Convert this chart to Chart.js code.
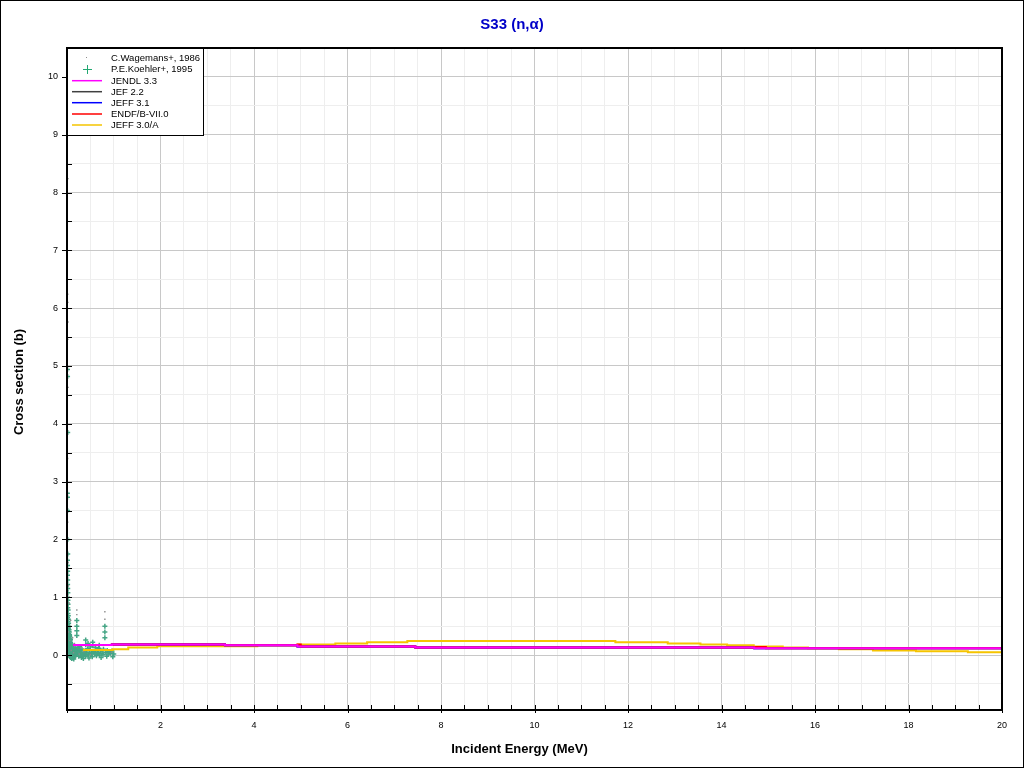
<!DOCTYPE html>
<html>
<head>
<meta charset="utf-8">
<script src="https://cdn.jsdelivr.net/npm/chart.js@4.4.1/dist/chart.umd.min.js"></script>
<style>
html,body{margin:0;padding:0;background:#fff;}
#c{display:block;}
</style>
</head>
<body>
<canvas id="c" width="1024" height="768" style="width:1024px;height:768px"></canvas>
<script>
// ---- data ----
const titleText = 'S33 (n,\u03b1)';
const xTickLabels = [2,4,6,8,10,12,14,16,18,20];
const yTickLabels = [0,1,2,3,4,5,6,7,8,9,10];

const jendlE = [0.13, 0.96, 3.38, 4.93, 7.45, 14.7, 20];
const jendlS = [0.173, 0.185, 0.168, 0.15, 0.133, 0.116, 0.116];
const jef22E = [0.13, 0.96, 3.38, 4.93, 7.45, 14.7, 20];
const jef22S = [0.173, 0.185, 0.168, 0.15, 0.133, 0.116, 0.116];
const jeff31E = [0.13, 0.96, 3.38, 4.93, 7.45, 14.7, 20];
const jeff31S = [0.173, 0.185, 0.168, 0.15, 0.133, 0.116, 0.116];
const endfE = [0.13, 0.96, 3.38, 4.93, 5.0, 7.45, 14.7, 14.95, 20];
const endfS = [0.173, 0.185, 0.168, 0.185, 0.15, 0.133, 0.14, 0.116, 0.116];
const jeff30E = [0.34, 0.98, 1.31, 1.93, 4.07, 4.93, 5.74, 6.42, 7.28, 11.73, 12.85, 13.55, 14.12, 14.69, 15.31, 15.85, 16.51, 17.24, 18.16, 19.27, 20];
const jeff30S = [0.087, 0.099, 0.133, 0.152, 0.168, 0.185, 0.202, 0.22, 0.242, 0.22, 0.202, 0.185, 0.168, 0.15, 0.133, 0.116, 0.099, 0.081, 0.064, 0.047, 0.047];

const koehlerE = [0.010,0.012,0.015,0.008,0.010,0.012,0.014,0.016,
  0.010,0.012,0.014,0.011,0.015,0.013,0.016,0.018,0.012,0.020,0.022,0.017,0.025,0.019,0.028,0.030,0.024,0.035,0.040,0.032,0.045,0.050,0.038,0.055,0.060,0.042,0.065,0.070,0.048,0.075,0.080,0.052,0.085,0.090,0.058,0.095,0.100,0.062,0.068,0.072,0.078,0.082,0.088,0.092,0.098,
  0.020,0.030,0.040,0.050,0.060,0.070,0.080,0.090,0.100,0.015,0.025,0.035,0.045,0.055,0.065,0.075,0.085,0.095,0.008,0.018,0.028,0.038,0.048,0.058,0.068,
  0.012,0.018,0.022,0.027,0.033,0.037,0.043,0.047,0.053,0.057,0.063,0.067,0.073,0.077,0.083,0.087,0.093,0.097,0.105,0.115,0.125,0.135,0.145,0.155,0.165,0.175,0.185,0.195,
  0.11,0.12,0.13,0.14,0.15,0.16,0.17,0.18,0.19,0.20,0.21,0.21,0.21,0.21,0.22,0.23,0.24,0.25,0.26,0.27,0.28,0.29,0.30,0.32,0.34,0.36,0.38,0.40,0.40,0.42,0.44,0.46,0.48,0.50,0.52,0.55,0.55,0.57,0.60,0.62,0.65,0.68,0.70,0.72,0.75,0.78,0.81,0.81,0.81,0.83,0.86,0.88,0.90,0.93,0.96,1.00,
  0.31,0.33,0.35,0.37,0.39,0.43,0.47,0.51,0.54,0.58,0.63,0.67,0.73,0.77,0.85,0.92,0.98,0.45,0.61,0.69];
const koehlerS = [4.94,4.82,3.85,2.80,2.73,2.50,2.00,1.75,
  1.64,1.55,1.45,1.38,1.30,1.22,1.15,1.08,1.00,0.95,0.88,0.82,0.78,0.72,0.68,0.62,0.58,0.55,0.50,0.47,0.44,0.40,0.37,0.35,0.32,0.30,0.28,0.26,0.24,0.22,0.20,0.19,0.17,0.15,0.14,0.12,0.10,0.09,0.08,0.06,0.05,0.04,0.03,0.02,0.01,
  0.10,0.05,0.15,0.02,-0.02,0.12,-0.04,0.07,-0.06,0.20,0.30,0.12,0.25,0.08,0.18,0.03,0.10,0.06,0.40,0.52,0.45,0.33,0.28,0.05,-0.03,
  0.65,0.48,0.36,0.22,0.41,0.16,0.29,0.09,0.34,0.13,0.21,0.04,0.27,0.11,0.06,0.19,0.08,0.00,0.03,-0.05,0.08,0.01,-0.07,0.04,0.10,-0.02,0.05,0.07,
  0.14,0.05,0.09,0.02,0.11,-0.03,0.07,0.04,0.13,0.01,0.60,0.50,0.42,0.34,0.08,0.03,0.12,-0.02,0.06,0.15,0.02,0.09,0.04,0.10,-0.01,0.07,0.03,0.26,0.18,0.05,0.11,0.01,0.08,0.14,0.03,0.22,0.16,0.06,0.02,0.09,0.04,0.12,0.00,0.07,0.03,0.10,0.50,0.40,0.30,0.05,0.08,0.02,0.06,0.03,0.07,0.02,
  -0.04,0.01,-0.06,0.03,-0.02,0.00,-0.05,0.02,-0.03,0.05,-0.01,0.04,-0.04,0.01,-0.02,0.04,-0.03,0.20,0.13,0.17];

const wagemansE = [0.020,0.015,0.018,0.020,0.017,0.022,0.013,0.016,0.024,0.030,0.050,0.080,0.120,0.160,0.21,0.21,0.30,0.45,0.60,0.81,0.81,0.95,0.03,0.06,0.09,0.14,0.26,0.36,0.50,0.70];
const wagemansS = [8.24,6.24,6.10,5.76,5.46,4.63,3.40,2.30,1.60,1.20,0.90,0.60,0.30,0.20,0.78,0.70,0.12,0.16,0.10,0.75,0.62,0.05,0.40,0.25,0.08,0.04,0.02,0.06,0.01,0.09];

// ---- helpers ----
function pts(E, S){ return E.map((e,i)=>({x:e, y:S[i]})); }
const LINE_COL = {jendl:'#ff00ff', jef22:'#404040', jeff31:'#0000ff', endf:'#ff0000', jeff30:'#f5c400'};
const KOEHLER_COL = '#45a585';
const KOEHLER_LEG = '#22a872';
const WAG_COL = '#8c8c8c';

function lineDs(label, E, S, color, order){
  return {label, data: pts(E,S), type:'scatter', showLine:true, stepped:true,
    borderColor:color, backgroundColor:color, borderWidth:2, pointRadius:0, order};
}

const datasets = [
  {label:'C.Wagemans+, 1986', data: pts(wagemansE, wagemansS), pointStyle:'rect', pointRadius:1,
    borderWidth:0, backgroundColor:WAG_COL, borderColor:WAG_COL, order:6},
  {label:'P.E.Koehler+, 1995', data: pts(koehlerE, koehlerS), pointStyle:'cross', pointRadius:2.5,
    borderWidth:1.5, backgroundColor:KOEHLER_COL, borderColor:KOEHLER_COL, order:7},
  lineDs('JENDL 3.3', jendlE, jendlS, LINE_COL.jendl, 0),
  lineDs('JEF 2.2', jef22E, jef22S, LINE_COL.jef22, 3),
  lineDs('JEFF 3.1', jeff31E, jeff31S, LINE_COL.jeff31, 2),
  lineDs('ENDF/B-VII.0', endfE, endfS, LINE_COL.endf, 1),
  lineDs('JEFF 3.0/A', jeff30E, jeff30S, LINE_COL.jeff30, 4)
];

const decor = {
  id:'decor',
  afterDraw(chart){
    const ctx = chart.ctx, a = chart.chartArea;
    const xs = chart.scales.x, ys = chart.scales.y;
    ctx.save();
    // plot frame
    ctx.strokeStyle = '#000'; ctx.lineWidth = 2;
    ctx.strokeRect(a.left, a.top, a.right - a.left, a.bottom - a.top);
    // ticks
    ctx.lineWidth = 1;
    ctx.beginPath();
    xs.ticks.forEach(t=>{
      const px = Math.round(xs.getPixelForValue(t.value)) + 0.5;
      const major = Math.abs(t.value % 2) < 1e-9;
      ctx.moveTo(px, a.bottom - 5);
      ctx.lineTo(px, a.bottom + (major ? 3 : 0));
    });
    ys.ticks.forEach(t=>{
      const py = Math.round(ys.getPixelForValue(t.value)) + 0.5;
      const major = Math.abs(t.value % 1) < 1e-9;
      ctx.moveTo(a.left - (major ? 5 : 0), py);
      ctx.lineTo(a.left + 5, py);
    });
    ctx.stroke();

    // legend
    const lx = 67, ly = 48, lw = 136, lh = 87;
    ctx.fillStyle = '#fff';
    ctx.fillRect(lx, ly, lw, lh);
    ctx.strokeStyle = '#000'; ctx.lineWidth = 1;
    ctx.strokeRect(lx + 0.5, ly + 0.5, lw, lh);
    const rows = [58.3, 69.3, 80.7, 91.7, 102.7, 114, 125];
    ctx.font = '9.5px "Liberation Sans", Arial, sans-serif';
    ctx.textBaseline = 'middle'; ctx.textAlign = 'left';
    datasets.forEach((d, i)=>{
      const y = rows[i];
      if (i === 0) {
        ctx.fillStyle = WAG_COL; ctx.fillRect(86, Math.round(y)-1, 1, 1);
      } else if (i === 1) {
        ctx.fillStyle = KOEHLER_LEG;
        const cy = Math.round(y);
        ctx.fillRect(83, cy, 9, 1);
        ctx.fillRect(87, cy - 4, 1, 9);
      } else {
        ctx.strokeStyle = d.borderColor; ctx.lineWidth = 1.5;
        ctx.beginPath();
        ctx.moveTo(72, y); ctx.lineTo(102, y);
        ctx.stroke();
      }
      ctx.fillStyle = '#000';
      ctx.fillText(d.label, 111, y + 0.5);
    });

    // titles
    ctx.fillStyle = '#0000c8';
    ctx.font = 'bold 15px "Liberation Sans", Arial, sans-serif';
    ctx.textAlign = 'center'; ctx.textBaseline = 'middle';
    ctx.fillText(titleText, 512, 25);
    ctx.fillStyle = '#000';
    ctx.font = 'bold 13px "Liberation Sans", Arial, sans-serif';
    ctx.fillText('Incident Energy (MeV)', 519.5, 749);
    ctx.translate(19, 382);
    ctx.rotate(-Math.PI/2);
    ctx.fillText('Cross section (b)', 0, 0);
    ctx.restore();

    // outer frame
    ctx.save();
    ctx.strokeStyle = '#000'; ctx.lineWidth = 1;
    ctx.strokeRect(0.5, 0.5, 1023, 767);
    ctx.restore();
  }
};

const bg = {
  id:'bg',
  beforeDraw(chart){
    const ctx = chart.ctx;
    ctx.save(); ctx.fillStyle = '#fff'; ctx.fillRect(0,0,chart.width,chart.height); ctx.restore();
  }
};

function gridColor(major){ return major ? '#c8c8c8' : '#eeeeee'; }

new Chart(document.getElementById('c'), {
  type: 'scatter',
  data: { datasets },
  plugins: [bg, decor],
  options: {
    responsive:false, animation:false, devicePixelRatio:1,
    layout:{ padding:{ left:0, top:48, right:22, bottom:0 } },
    plugins:{ legend:{display:false}, title:{display:false}, tooltip:{enabled:false} },
    scales:{
      x:{
        type:'linear', min:0, max:20,
        afterFit(s){ s.height = 58; },
        border:{display:false},
        grid:{ drawTicks:false, lineWidth:1,
          color:(c)=> gridColor(c.tick && Math.abs(c.tick.value % 2) < 1e-9) },
        ticks:{ stepSize:0.5, autoSkip:false, maxRotation:0, padding:10, color:'#000',
          font:{family:'"Liberation Sans", Arial, sans-serif', size:9},
          callback:(v)=> xTickLabels.includes(v) ? String(v) : '' }
      },
      y:{
        type:'linear', min:-0.95, max:10.5,
        afterFit(s){ s.width = 67; },
        border:{display:false},
        grid:{ drawTicks:false, lineWidth:1,
          color:(c)=> gridColor(c.tick && Math.abs(c.tick.value % 1) < 1e-9) },
        ticks:{ stepSize:0.5, includeBounds:false, autoSkip:false, padding:9, color:'#000',
          font:{family:'"Liberation Sans", Arial, sans-serif', size:9},
          callback:(v)=> yTickLabels.includes(v) ? String(v) : '' }
      }
    }
  }
});
</script>
</body>
</html>
